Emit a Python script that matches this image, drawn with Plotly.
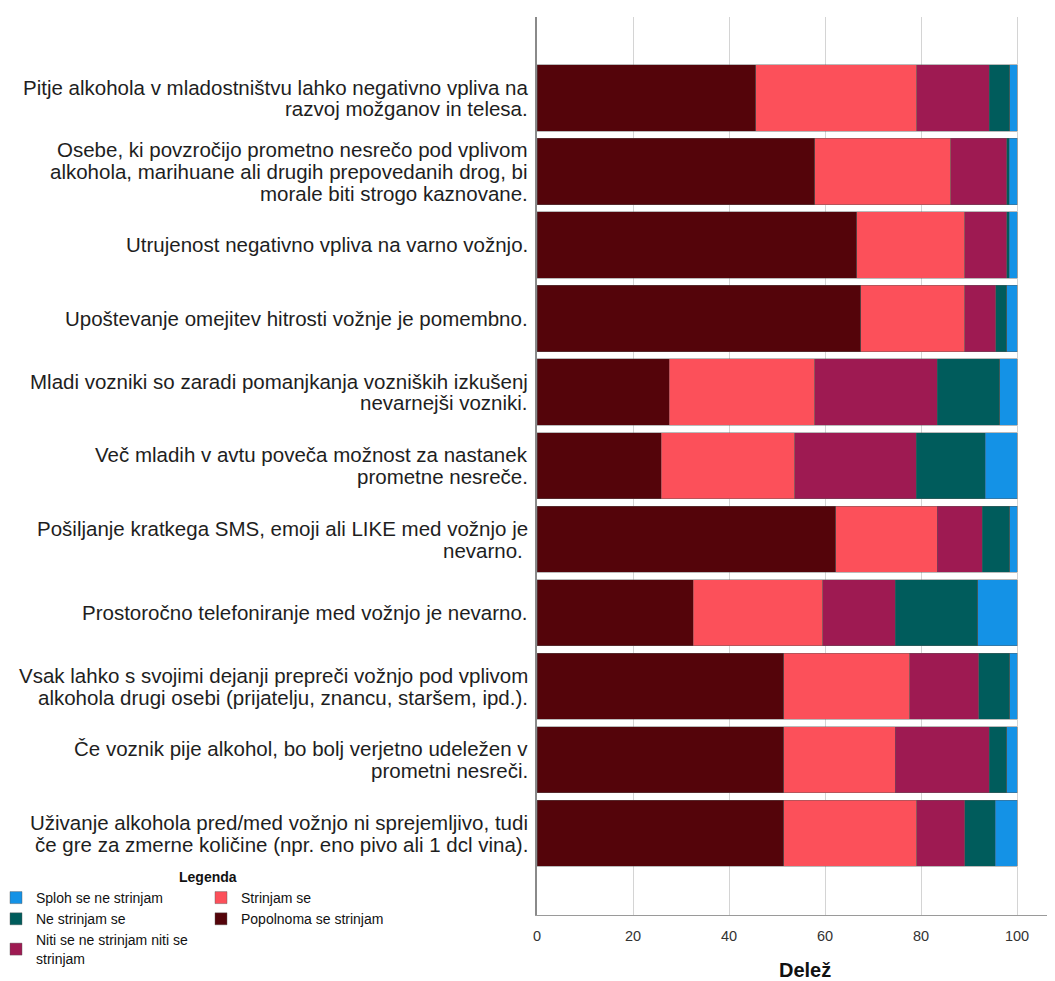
import plotly.graph_objects as go

categories = [
    "Pitje alkohola v mladostništvu lahko negativno vpliva na<br>razvoj možganov in telesa.",
    "Osebe, ki povzročijo prometno nesrečo pod vplivom<br>alkohola, marihuane ali drugih prepovedanih drog, bi<br>morale biti strogo kaznovane.",
    "Utrujenost negativno vpliva na varno vožnjo.",
    "Upoštevanje omejitev hitrosti vožnje je pomembno.",
    "Mladi vozniki so zaradi pomanjkanja vozniških izkušenj<br>nevarnejši vozniki.",
    "Več mladih v avtu poveča možnost za nastanek<br>prometne nesreče.",
    "Pošiljanje kratkega SMS, emoji ali LIKE med vožnjo je<br>nevarno. ",
    "Prostoročno telefoniranje med vožnjo je nevarno.",
    "Vsak lahko s svojimi dejanji prepreči vožnjo pod vplivom<br>alkohola drugi osebi (prijatelju, znancu, staršem, ipd.).",
    "Če voznik pije alkohol, bo bolj verjetno udeležen v<br>prometni nesreči.",
    "Uživanje alkohola pred/med vožnjo ni sprejemljivo, tudi<br>če gre za zmerne količine (npr. eno pivo ali 1 dcl vina).",
]

popolnoma = [45.6, 57.9, 66.6, 67.4, 27.5, 25.9, 62.2, 32.5, 51.4, 51.4, 51.4]
strinjam = [33.5, 28.3, 22.5, 21.7, 30.4, 27.8, 21.2, 27.0, 26.2, 23.2, 27.7]
niti = [15.1, 11.6, 8.7, 6.5, 25.5, 25.3, 9.3, 15.1, 14.4, 19.6, 10.0]
ne = [4.3, 0.6, 0.6, 2.2, 13.0, 14.4, 5.8, 17.2, 6.5, 3.6, 6.4]
sploh = [1.5, 1.6, 1.6, 2.2, 3.6, 6.6, 1.5, 8.2, 1.5, 2.2, 4.5]

x_ticks = [0, 20, 40, 60, 80, 100]

series = [
    ("Popolnoma se strinjam", popolnoma, "#54040A", "legend2", 2),
    ("Strinjam se", strinjam, "#FC505A", "legend2", 1),
    ("Niti se ne strinjam niti se<br>strinjam", niti, "#9E1A52", "legend", 3),
    ("Ne strinjam se", ne, "#005C5C", "legend", 2),
    ("Sploh se ne strinjam", sploh, "#1492E6", "legend", 1),
]

# the page adds an 8px body margin, so the figure is placed 8px in from the window corner
OFF = 8
W, H = 1055 - OFF, 981 - OFF
PLOT_L, PLOT_R, PLOT_T, PLOT_B = 537, 1055, 17, 915   # target page pixels
L, R, T, B = PLOT_L - OFF, 1055 - PLOT_R, PLOT_T - OFF, H - (PLOT_B - OFF)
PW, PH = W - L - R, H - T - B


def px_x(px):
    return (px - PLOT_L) / PW


def px_y(py):
    return (PLOT_B - py) / PH


ypos = list(range(len(categories)))

fig = go.Figure()
for name, vals, color, leg, rank in series:
    fig.add_trace(go.Bar(
        y=ypos, x=vals, name=name, orientation="h",
        marker=dict(color=color, line=dict(color="rgba(90,90,90,0.6)", width=0.7)),
        width=0.9, legend=leg, legendrank=rank,
    ))

# category labels, right-aligned next to the y axis, with tight line spacing
LINE = 21.7
annotations = []
for i, cat in enumerate(categories):
    lines = cat.split("<br>")
    n = len(lines)
    for j, line in enumerate(lines):
        annotations.append(dict(
            text=line, xref="paper", yref="y", x=0, y=i,
            xanchor="right", yanchor="middle", xshift=-7,
            yshift=((n - 1) / 2 - j) * LINE, showarrow=False,
            font=dict(size=20.5, color="#1E1E1E"),
        ))

annotations.append(dict(
    text="<b>Legenda</b>", xref="paper", yref="paper",
    x=px_x(208), y=px_y(877), xanchor="center", yanchor="middle",
    showarrow=False, font=dict(size=14, color="#111"),
))
annotations.append(dict(
    text="<b>Delež</b>", xref="paper", yref="paper",
    x=px_x(805), y=px_y(970), xanchor="center", yanchor="middle",
    showarrow=False, font=dict(size=20, color="#111"),
))

legend_common = dict(
    yref="paper", xanchor="left", yanchor="top", orientation="v",
    traceorder="normal", font=dict(size=14, color="#111"), itemwidth=30,
    tracegroupgap=0, bgcolor="rgba(0,0,0,0)",
)

fig.update_layout(
    barmode="stack",
    width=W, height=H,
    margin=dict(l=L, r=R, t=T, b=B, autoexpand=False),
    paper_bgcolor="white", plot_bgcolor="white",
    font=dict(family="Liberation Sans, Arial, sans-serif", color="#222"),
    showlegend=True,
    xaxis=dict(
        range=[0, 107.9], tickvals=x_ticks, ticktext=[str(v) for v in x_ticks],
        showgrid=True, gridcolor="#D4D4D4", gridwidth=1,
        zeroline=False, showline=True, linecolor="#9A9A9A", linewidth=1,
        ticks="", tickfont=dict(size=14.5, color="#333"), ticklabelstandoff=8,
        automargin=False,
    ),
    yaxis=dict(
        range=[11.11, -1.10], tickvals=ypos, showticklabels=False,
        showgrid=False, zeroline=False, showline=True, linecolor="#8A8A8A", linewidth=1.5,
        ticks="", automargin=False,
    ),
    legend=dict(x=px_x(-4), y=px_y(882), **legend_common),
    legend2=dict(x=px_x(201), y=px_y(882), **legend_common),
    annotations=annotations,
)

fig.write_html("out.html")
